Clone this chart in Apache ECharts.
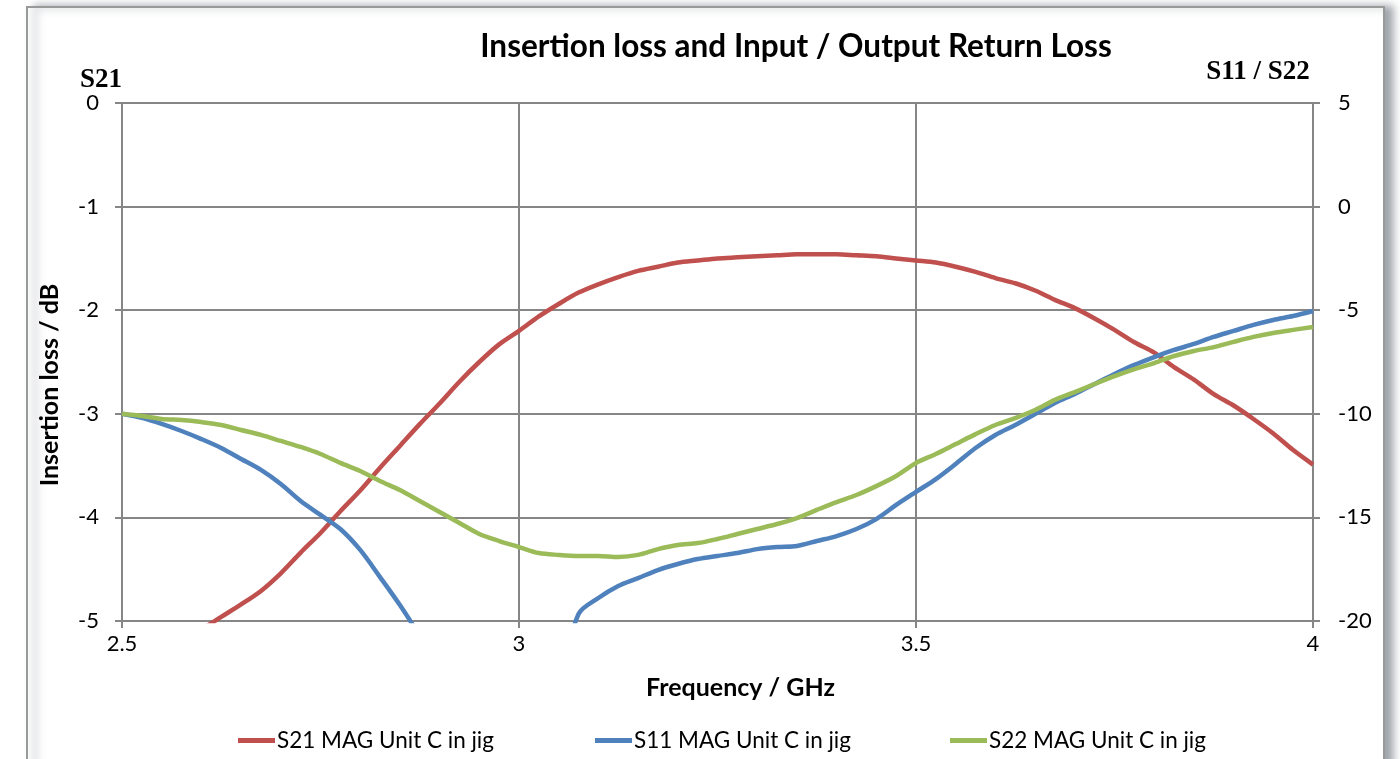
<!DOCTYPE html>
<html>
<head>
<meta charset="utf-8">
<script src="https://cdn.jsdelivr.net/npm/echarts@6/dist/echarts.min.js"></script>
<style>html,body{margin:0;padding:0;background:#fff;}#c{width:1400px;height:759px;}</style>
</head>
<body>
<div id="c"></div>
<script>
// Frequency grid (GHz)
const freq = [2.5,2.525,2.55,2.575,2.6,2.625,2.65,2.675,2.7,2.725,2.75,2.775,2.8,2.825,2.85,2.875,2.9,2.925,2.95,2.975,
  3.0,3.025,3.05,3.075,3.1,3.125,3.15,3.175,3.2,3.225,3.25,3.275,3.3,3.325,3.35,3.375,3.4,3.425,3.45,3.475,
  3.5,3.525,3.55,3.575,3.6,3.625,3.65,3.675,3.7,3.725,3.75,3.775,3.8,3.825,3.85,3.875,3.9,3.925,3.95,3.975,4.0];
// S21 insertion loss (dB), left axis
const s21 = [-5.52,-5.42,-5.30,-5.18,-5.08,-4.96,-4.84,-4.71,-4.54,-4.34,-4.15,-3.94,-3.74,-3.52,-3.31,-3.10,-2.90,-2.69,-2.50,-2.33,
  -2.20,-2.06,-1.94,-1.83,-1.75,-1.68,-1.62,-1.58,-1.54,-1.52,-1.50,-1.49,-1.48,-1.47,-1.46,-1.46,-1.46,-1.47,-1.48,-1.50,
  -1.52,-1.54,-1.58,-1.63,-1.69,-1.74,-1.81,-1.90,-1.98,-2.08,-2.19,-2.31,-2.41,-2.55,-2.67,-2.81,-2.92,-3.05,-3.19,-3.35,-3.49];
// S11 return loss (dB), right axis
const s11 = [-10.0,-10.2,-10.49,-10.83,-11.22,-11.65,-12.18,-12.71,-13.39,-14.21,-14.88,-15.56,-16.57,-17.88,-19.23,-20.72,-22.3,-23.8,-25.0,-26.0,
  -26.5,-25.5,-23.0,-19.66,-18.89,-18.31,-17.93,-17.54,-17.25,-17.01,-16.86,-16.72,-16.53,-16.43,-16.38,-16.14,-15.90,-15.56,-15.08,-14.40,
  -13.77,-13.15,-12.42,-11.65,-11.02,-10.54,-10.01,-9.48,-9.04,-8.56,-8.08,-7.64,-7.26,-6.92,-6.63,-6.29,-6.00,-5.71,-5.47,-5.28,-5.04];
// S22 return loss (dB), right axis
const s22 = [-10.0,-10.11,-10.25,-10.30,-10.40,-10.54,-10.78,-11.02,-11.31,-11.60,-11.94,-12.37,-12.76,-13.24,-13.68,-14.21,-14.74,-15.27,-15.80,-16.14,
  -16.43,-16.72,-16.81,-16.86,-16.86,-16.91,-16.81,-16.53,-16.33,-16.24,-16.04,-15.80,-15.56,-15.32,-15.03,-14.64,-14.26,-13.92,-13.49,-13.00,
  -12.37,-11.94,-11.46,-10.98,-10.54,-10.21,-9.82,-9.33,-8.95,-8.56,-8.18,-7.84,-7.55,-7.21,-6.97,-6.78,-6.53,-6.29,-6.10,-5.95,-5.81];
const seriesNames = ['S21 MAG Unit C in jig','S11 MAG Unit C in jig','S22 MAG Unit C in jig'];
const colors = ['#C0504D','#4F81BD','#9BBB59'];

const pair = arr => freq.map((f,i)=>[f,arr[i]]);
const font = 'Lato, "Open Sans", sans-serif';
const gridColor = '#868686';
const legendLeft = [238, 595, 950];

const chart = echarts.init(document.getElementById('c'));
chart.setOption({
  animation:false,
  backgroundColor:'#fff',
  graphic:[{
    type:'rect', z:-100,
    shape:{x:27,y:7,width:1357,height:800},
    style:{fill:'#fff',stroke:'#999',lineWidth:2,shadowBlur:8,shadowOffsetX:8,shadowOffsetY:0,shadowColor:'rgba(80,90,100,0.55)'}
  }],
  title:[
    {text:'Insertion loss and Input / Output Return Loss',left:791,top:26,textAlign:'center',
     textStyle:{fontFamily:font,fontWeight:'bold',fontSize:31.5,color:'#000'}},
    {text:'S21',left:96,top:62,textAlign:'center',
     textStyle:{fontFamily:'"Liberation Serif", serif',fontWeight:'bold',fontSize:27,color:'#000'}},
    {text:'S11 / S22',left:1253,top:54,textAlign:'center',
     textStyle:{fontFamily:'"Liberation Serif", serif',fontWeight:'bold',fontSize:27,color:'#000'}}
  ],
  legend: seriesNames.map((n,i)=>({
    left:legendLeft[i], top:729, padding:0, itemWidth:37, itemHeight:5, icon:'rect',
    textStyle:{fontFamily:font,fontSize:22.5,color:'#000',padding:[0,0,0,-3]},
    data:[n]
  })),
  grid:{left:122,right:87,top:103,bottom:138},
  xAxis:{
    type:'value',min:2.5,max:4,interval:0.5,
    name:'Frequency / GHz',nameLocation:'middle',nameGap:54,
    nameTextStyle:{fontFamily:font,fontWeight:'bold',fontSize:25,color:'#000',padding:[0,0,0,46]},
    axisLine:{onZero:false,lineStyle:{color:gridColor,width:2}},
    axisTick:{show:true,length:7,lineStyle:{color:gridColor,width:2}},
    axisLabel:{fontFamily:font,fontSize:22,color:'#000',margin:12},
    splitLine:{show:true,lineStyle:{color:gridColor,width:2}}
  },
  yAxis:[
    {type:'value',min:-5,max:0,interval:1,position:'left',
     name:'Insertion loss / dB',nameLocation:'middle',nameGap:60,nameRotate:90,
     nameTextStyle:{fontFamily:font,fontWeight:'bold',fontSize:25,color:'#000',padding:[0,46,0,0]},
     axisLine:{show:true,onZero:false,lineStyle:{color:gridColor,width:2}},
     axisTick:{show:true,length:7,lineStyle:{color:gridColor,width:2}},
     axisLabel:{fontFamily:font,fontSize:22,color:'#000',margin:23},
     splitLine:{show:true,lineStyle:{color:gridColor,width:2}}},
    {type:'value',min:-20,max:5,interval:5,position:'right',
     axisLine:{show:true,onZero:false,lineStyle:{color:gridColor,width:2}},
     axisTick:{show:true,length:7,lineStyle:{color:gridColor,width:2}},
     axisLabel:{fontFamily:font,fontSize:22,color:'#000',margin:25},
     splitLine:{show:false}}
  ],
  series:[
    {name:seriesNames[0],type:'line',yAxisIndex:0,data:pair(s21),smooth:0.3,showSymbol:false,clip:true,
     lineStyle:{color:colors[0],width:4.5},itemStyle:{color:colors[0]}},
    {name:seriesNames[1],type:'line',yAxisIndex:1,data:pair(s11),smooth:0.3,showSymbol:false,clip:true,
     lineStyle:{color:colors[1],width:4.5},itemStyle:{color:colors[1]}},
    {name:seriesNames[2],type:'line',yAxisIndex:1,data:pair(s22),smooth:0.3,showSymbol:false,clip:true,
     lineStyle:{color:colors[2],width:4.5},itemStyle:{color:colors[2]}}
  ]
});
</script>
</body>
</html>
